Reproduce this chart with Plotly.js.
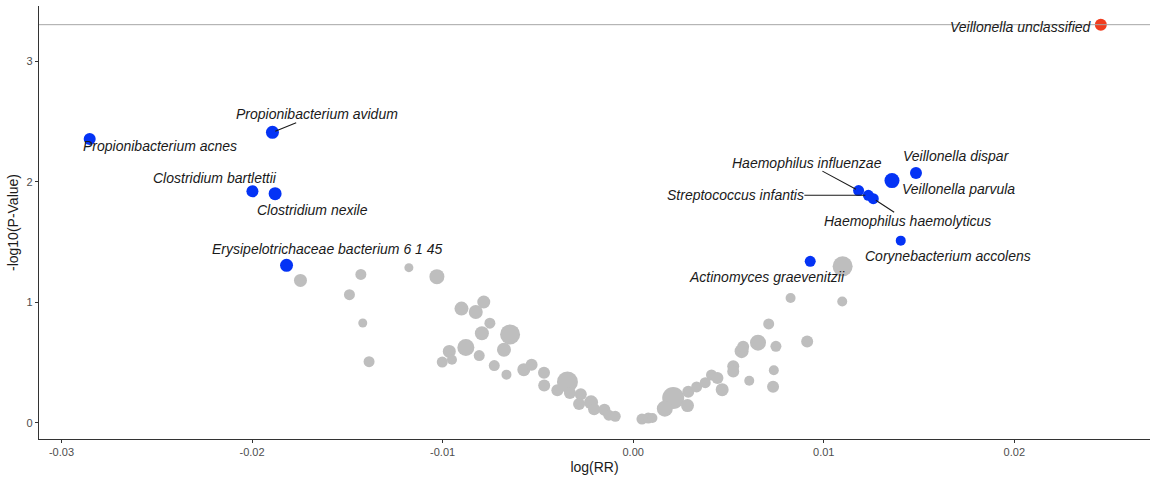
<!DOCTYPE html>
<html>
<head>
<meta charset="utf-8">
<script src="https://cdn.plot.ly/plotly-3.0.1.min.js"></script>
<style>
  html, body { margin: 0; padding: 0; background: #fff; }
  #chart { width: 1151px; height: 479px; }
</style>
</head>
<body>
<div id="chart"></div>
<script>
// Background taxa (not significant): effect size, significance, mean abundance
const bgLogRR = [
  -0.01746, -0.01429, -0.01489, -0.01419, -0.01386, -0.01177, -0.01030, -0.00901,
  -0.00826, -0.00784, -0.00752, -0.00794, -0.00646, -0.00678, -0.00878, -0.00965,
  -0.01002, -0.00951, -0.00808, -0.00729, -0.00665, -0.00574, -0.00533, -0.00468,
  -0.00345, -0.00467, -0.00398, -0.00332, -0.00275, -0.00284, -0.00221, -0.00205,
  -0.00151, -0.00128, -0.00094, 0.00046, 0.00079, 0.00101, 0.00210, 0.00166,
  0.00289, 0.00285, 0.00333, 0.00378, 0.00411, 0.00442, 0.00467, 0.00525,
  0.00525, 0.00569, 0.00577, 0.00655, 0.00609, 0.00711, 0.00749, 0.00738,
  0.00734, 0.00913, 0.00826, 0.01097, 0.01099
];
const bgNegLogP = [
  1.183, 1.233, 1.065, 0.830, 0.509, 1.289, 1.214, 0.949,
  0.921, 1.004, 0.828, 0.745, 0.735, 0.608, 0.627, 0.594,
  0.505, 0.525, 0.559, 0.476, 0.401, 0.442, 0.484, 0.417,
  0.341, 0.310, 0.272, 0.249, 0.239, 0.158, 0.171, 0.113,
  0.110, 0.065, 0.055, 0.032, 0.041, 0.041, 0.207, 0.119,
  0.260, 0.144, 0.299, 0.334, 0.398, 0.373, 0.276, 0.470,
  0.428, 0.596, 0.633, 0.666, 0.351, 0.822, 0.636, 0.438,
  0.301, 0.677, 1.037, 1.008, 1.300
];
const bgAbundance = [
  6.5, 5.5, 5.5, 4.5, 5.5, 4.5, 7.5, 7,
  7, 6.5, 5.5, 7, 10, 7, 8.5, 6.5,
  5.5, 5, 5.5, 5.5, 5, 6.5, 6, 6,
  10.5, 6, 6, 6, 6, 6, 7, 6,
  6, 5.5, 5.5, 5.5, 5.5, 5, 11, 8,
  6, 6.5, 5.5, 5.5, 5.5, 6, 6.5, 6,
  6, 7, 6, 8, 5, 5.5, 5.5, 5,
  6, 6, 5, 5, 10
];

// Nominally significant taxa
const sigNames = [
  'Propionibacterium acnes', 'Propionibacterium avidum', 'Clostridium bartlettii',
  'Clostridium nexile', 'Erysipelotrichaceae bacterium 6 1 45', 'Actinomyces graevenitzii',
  'Corynebacterium accolens', 'Veillonella dispar', 'Veillonella parvula',
  'Haemophilus influenzae', 'Streptococcus infantis', 'Haemophilus haemolyticus'
];
const sigLogRR = [
  -0.02852, -0.01893, -0.01998, -0.01879, -0.01819, 0.00929,
  0.01404, 0.01484, 0.01358, 0.01183, 0.01234, 0.01260
];
const sigNegLogP = [
  2.357, 2.412, 1.922, 1.903, 1.308, 1.341,
  1.513, 2.075, 2.011, 1.928, 1.889, 1.861
];
const sigAbundance = [6, 6.5, 6, 6.5, 6.5, 5.5, 5, 6, 7.5, 5.5, 5.5, 5.5];

// Taxon passing the corrected threshold
const topNames = ['Veillonella unclassified'];
const topLogRR = [0.02454];
const topNegLogP = [3.305];
const topAbundance = [6];

// Corrected significance threshold (-log10 scale)
const threshold = 3.305;

// Axis ticks
const xTickVals = [-0.03, -0.02, -0.01, 0.00, 0.01, 0.02];
const xTickText = ['-0.03', '-0.02', '-0.01', '0.00', '0.01', '0.02'];
const yTickVals = [0, 1, 2, 3];
const yTickText = ['0', '1', '2', '3'];

// Label placement (pixel offsets of each label's centre from its point)
const labelPlacement = {
  'Propionibacterium acnes':              { dx: 70,   dy: 7,   line: false },
  'Propionibacterium avidum':             { dx: 45,   dy: -18, line: true  },
  'Clostridium bartlettii':               { dx: -37,  dy: -13, line: false },
  'Clostridium nexile':                   { dx: 37,   dy: 16,  line: false },
  'Erysipelotrichaceae bacterium 6 1 45': { dx: 41,   dy: -16, line: false },
  'Actinomyces graevenitzii':             { dx: -43,  dy: 16,  line: false },
  'Corynebacterium accolens':             { dx: 47,   dy: 15,  line: false },
  'Veillonella dispar':                   { dx: 41,   dy: -17, line: false },
  'Veillonella parvula':                  { dx: 67,   dy: 8,   line: false },
  'Haemophilus influenzae':               { dx: -52,  dy: -28, line: true  },
  'Streptococcus infantis':               { dx: -133, dy: 0,   line: true  },
  'Haemophilus haemolyticus':             { dx: 34,   dy: 22,  line: true  },
  'Veillonella unclassified':             { dx: -80,  dy: 2,   line: false }
};

const diameter = a => a.map(v => 2 * v);

const traces = [
  {
    type: 'scatter', mode: 'markers',
    x: bgLogRR, y: bgNegLogP,
    marker: { color: '#bebebe', opacity: 1, size: diameter(bgAbundance), line: { width: 0 } },
    hoverinfo: 'x+y'
  },
  {
    type: 'scatter', mode: 'markers',
    x: sigLogRR, y: sigNegLogP, text: sigNames,
    marker: { color: '#0433f5', opacity: 1, size: diameter(sigAbundance), line: { width: 0 } },
    hoverinfo: 'text+x+y'
  },
  {
    type: 'scatter', mode: 'markers',
    x: topLogRR, y: topNegLogP, text: topNames,
    marker: { color: '#f03c1e', opacity: 1, size: diameter(topAbundance), line: { width: 0 } },
    hoverinfo: 'text+x+y'
  }
];

const labelFont = { family: 'Liberation Sans, Arial, sans-serif', size: 14, color: '#1a1a1a' };

function makeLabel(name, x, y) {
  const p = labelPlacement[name];
  const base = {
    x: x, y: y, xref: 'x', yref: 'y',
    text: '<i>' + name + '</i>',
    font: labelFont,
    xanchor: 'center', yanchor: 'middle'
  };
  if (p.line) {
    return Object.assign(base, {
      showarrow: true, arrowhead: 0, arrowwidth: 1.1, arrowcolor: '#1a1a1a',
      ax: p.dx, ay: p.dy, standoff: 3, borderpad: 0
    });
  }
  return Object.assign(base, { showarrow: false, xshift: p.dx, yshift: -p.dy });
}

const annotations = [];
sigNames.forEach((n, i) => annotations.push(makeLabel(n, sigLogRR[i], sigNegLogP[i])));
topNames.forEach((n, i) => annotations.push(makeLabel(n, topLogRR[i], topNegLogP[i])));

const axisCommon = {
  showgrid: false, zeroline: false,
  showline: true, linecolor: '#333333', linewidth: 1.1,
  ticks: 'outside', ticklen: 3, tickwidth: 1, tickcolor: '#333333',
  tickfont: { family: 'Liberation Sans, Arial, sans-serif', size: 11, color: '#4d4d4d' },
  tickmode: 'array'
};

const layout = {
  width: 1151, height: 479,
  margin: { l: 39, r: 1, t: 6, b: 40, pad: 0 },
  paper_bgcolor: '#ffffff', plot_bgcolor: '#ffffff',
  showlegend: false,
  xaxis: Object.assign({}, axisCommon, {
    range: [-0.03118, 0.02712],
    tickvals: xTickVals, ticktext: xTickText,
    title: { text: 'log(RR)', standoff: 4,
             font: { family: 'Liberation Sans, Arial, sans-serif', size: 14, color: '#1a1a1a' } },
    automargin: false
  }),
  yaxis: Object.assign({}, axisCommon, {
    range: [-0.133, 3.46],
    tickvals: yTickVals, ticktext: yTickText,
    title: { text: '-log10(P-Value)', standoff: 4,
             font: { family: 'Liberation Sans, Arial, sans-serif', size: 14, color: '#1a1a1a' } },
    automargin: false
  }),
  // Threshold rule drawn over the markers
  shapes: [{
    type: 'line', xref: 'paper', x0: 0, x1: 1, yref: 'y', y0: threshold, y1: threshold,
    line: { color: '#a6a6a6', width: 1 }, layer: 'above'
  }],
  annotations: annotations
};

Plotly.newPlot('chart', traces, layout, { displayModeBar: false, staticPlot: true });
</script>
</body>
</html>
